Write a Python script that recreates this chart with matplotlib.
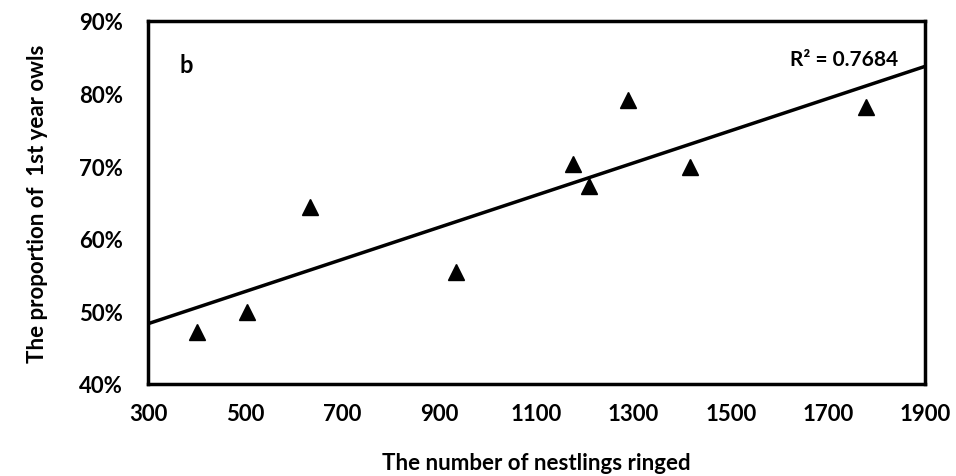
import numpy as np
import matplotlib.pyplot as plt
from matplotlib.ticker import PercentFormatter

# data
nestlings = [401, 504, 634, 934, 1175, 1208, 1288, 1416, 1778]
first_year_pct = [47.2, 49.9, 64.4, 55.4, 70.3, 67.3, 79.1, 69.9, 78.2]
x_ticks = [300, 500, 700, 900, 1100, 1300, 1500, 1700, 1900]
y_ticks = [40, 50, 60, 70, 80, 90]
r2_label = "R² = 0.7684"

plt.rcParams['font.family'] = ['Lato', 'DejaVu Sans']
plt.rcParams['font.weight'] = 'bold'

fig = plt.figure(figsize=(9.56, 4.77), dpi=100)
ax = fig.add_axes([0.1548, 0.193, 0.8128, 0.761])

x = np.array(nestlings)
y = np.array(first_year_pct)
ax.plot(x, y, linestyle='none', marker='^', ms=11, color='black')

# linear trend line across the full axis
k, b = np.polyfit(x, y, 1)
xl = np.array([x_ticks[0], x_ticks[-1]])
ax.plot(xl, k * xl + b, color='black', lw=2.5)

ax.set_xlim(x_ticks[0], x_ticks[-1])
ax.set_ylim(y_ticks[0], y_ticks[-1])
ax.set_xticks(x_ticks)
ax.set_yticks(y_ticks)
ax.yaxis.set_major_formatter(PercentFormatter(decimals=0))
ax.tick_params(axis='y', length=0, labelsize=16, pad=18)
ax.tick_params(axis='x', length=0, labelsize=16, pad=14)
for lab in ax.get_xticklabels() + ax.get_yticklabels():
    lab.set_fontweight('bold')
for s in ax.spines.values():
    s.set_linewidth(2.5)

ax.set_xlabel("The number of nestlings ringed", fontsize=16, fontweight='bold', labelpad=20)
ax.set_ylabel("The proportion of  1st year owls", fontsize=16, fontweight='bold', labelpad=22)

ax.text(0.04, 0.86, "b", transform=ax.transAxes, fontsize=17, fontweight='bold')
ax.text(0.965, 0.88, r2_label, transform=ax.transAxes, fontsize=15, fontweight='bold', ha='right')

fig.savefig("out.png", dpi=100)
